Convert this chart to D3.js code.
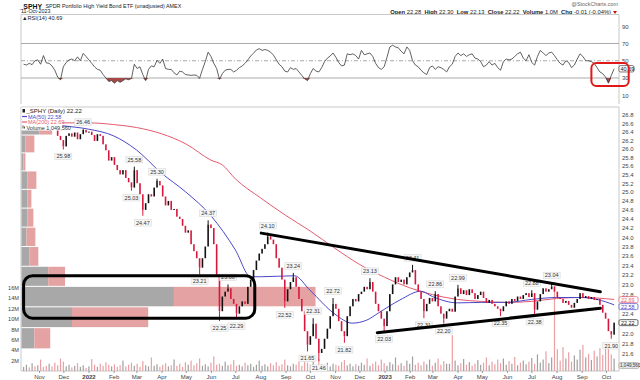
<!DOCTYPE html>
<html><head><meta charset="utf-8">
<script src="https://cdnjs.cloudflare.com/ajax/libs/d3/7.8.5/d3.min.js"></script>
<style>
body{margin:0;background:#fff;}
svg{display:block;font-family:"Liberation Sans",Arial,sans-serif;}
</style></head><body>
<svg id="c" width="640" height="380"></svg>
<script>
// ---------- DATA ----------
const startDate = Date.UTC(2021, 9, 13);   // first sample
const stepDays = 3.5;                        // two samples per week
const closes = [
26.62,26.66,26.60,26.68,26.64,26.70,26.66,26.60,26.56,26.62,26.52,
26.44,26.30,26.20,26.05,26.30,26.36,26.28,26.38,26.22,26.34,
26.44,26.38,26.40,26.32,26.18,26.34,26.30,26.10,25.96,25.72,
25.80,25.62,25.50,25.40,25.50,25.32,25.22,25.10,25.50,25.20,
24.95,24.60,24.75,24.95,24.90,25.10,25.25,25.15,24.90,24.70,
24.80,24.60,24.62,24.45,24.40,24.25,24.10,24.15,23.85,23.70,
23.55,23.35,23.55,23.80,24.28,24.20,23.85,23.20,22.45,22.75,
22.85,22.92,22.70,22.60,22.40,22.55,22.65,22.60,22.95,23.10,
23.30,23.50,23.65,23.75,23.85,24.02,23.95,23.85,23.55,23.35,
23.10,22.65,22.90,23.05,23.15,22.95,22.70,22.45,22.05,21.78,
21.95,22.20,21.90,21.62,21.70,21.90,22.10,22.35,22.60,22.50,
22.25,22.05,21.95,22.35,22.55,22.70,22.65,22.80,22.85,22.95,
22.90,23.05,22.85,22.60,22.45,22.30,22.15,22.45,22.80,23.00,
23.15,23.05,23.10,23.00,23.15,23.25,23.30,23.00,22.85,22.70,
22.45,22.60,22.72,22.65,22.80,22.55,22.40,22.30,22.45,22.50,
22.44,22.75,22.92,22.80,22.88,22.78,22.90,22.82,22.70,22.78,
22.85,22.72,22.62,22.68,22.60,22.55,22.50,22.45,22.55,22.65,
22.60,22.70,22.66,22.75,22.70,22.78,22.82,22.74,22.82,22.48,
22.65,22.80,22.92,22.85,22.90,22.96,22.85,22.72,22.70,22.62,
22.66,22.58,22.52,22.62,22.70,22.82,22.72,22.76,22.70,22.74,
22.68,22.70,22.58,22.42,22.30,22.05,21.98,22.22];

const volumes = [ // millions
0.8,1.2,0.7,1.5,0.9,1.1,2.2,0.8,1.0,1.4,
0.9,1.6,1.1,2.4,1.8,0.9,1.2,0.7,1.0,1.5,
0.8,1.1,0.6,0.9,2.3,1.2,0.8,1.4,1.0,1.7,
1.2,0.9,1.3,0.8,1.1,2.0,0.9,1.2,1.6,1.0,
1.4,0.8,1.9,1.1,0.9,2.6,1.0,1.3,0.8,1.2,
1.5,0.9,1.1,2.2,1.0,1.4,0.8,1.7,1.2,2.0,
1.1,1.5,2.4,1.0,1.3,0.9,1.6,2.8,1.2,1.4,
1.0,1.8,1.1,1.3,2.1,1.0,1.2,0.9,1.6,1.1,
1.4,0.8,1.2,2.0,1.0,1.3,0.9,1.5,1.1,1.7,
1.0,1.3,2.2,1.1,0.9,1.4,1.2,1.8,1.0,2.5,
1.6,1.2,1.9,1.0,2.3,1.3,1.1,1.6,0.9,1.4,
1.2,1.0,1.7,2.1,1.1,1.4,0.9,1.3,1.0,1.6,
1.2,2.4,1.0,1.4,1.8,1.1,2.2,1.5,1.0,1.7,
1.3,2.6,1.1,1.5,1.0,2.0,1.4,2.8,1.2,1.6,
1.1,1.8,1.3,2.2,1.0,1.6,2.4,1.2,1.9,1.4,
1.4,6.9,2.0,1.1,1.5,2.3,1.2,1.7,1.0,1.4,
2.1,1.2,1.6,2.6,1.1,1.8,1.3,2.2,1.5,2.4,
1.2,1.9,1.4,2.7,1.1,1.6,2.0,1.3,1.8,2.5,
1.4,3.2,1.6,2.2,3.8,1.5,2.6,16.0,4.2,2.0,
4.6,2.4,3.6,1.8,3.0,2.2,4.1,5.0,2.6,3.3,
2.1,3.9,2.8,4.4,3.1,5.4,4.8,3.2,2.4];

const rsi = [
46,45,47,45.5,50,51,46,56,47.5,47,44,
39,31,28,43,48,51,52,50,54.5,50,
58.5,55,51,47,43,40,39,34,30,26,
27,24,27,25,27,29,28,29.5,46,41,
43,34,27,40,44,43,50.5,47,52,41,
40,40,36,33.5,38,37,34,33.5,33,33.5,
33,29.8,40,49,60,55,47,41,28.5,35,
39,40,40,37,39,42,44,47,51,55.5,
58.8,62.5,64,62,63,62,60,56.5,51.3,46,
43,38,37,42,40,41,37,33,29,27,
35,41,38,37,42,49,53,55.5,59,54,
48,44,45,58,57,58,56,52,62,57,
58,59,55,47,42,40,43,54,66,68,
66,65,61,58,66,62,50,45,43,39,
36,34,42,44,40,43,42,40,37,43,
46,55,59,56,58,55,57,58,53,52,
49,43,45,49,45,47,42,39,49,52,
51,52,55,58,60,53,50,57,48,45,
55,62,59,56,59,60,56,51,47,45,
50,48,42,45,52,58,55,50,50,49,
47,42,37,35,31,24,33,40.69];

// annotated highs / lows: [sample index, value, H|L]
const pivots = [[14,25.98,"L"],[21,26.46,"H"],[38,25.03,"L"],[39,25.58,"H"],[42,24.47,"L"],[47,25.30,"H"],
[62,23.21,"L"],[65,24.37,"H"],[69,22.25,"L"],[72,23.00,"H"],[75,22.29,"L"],[86,24.10,"H"],[92,22.52,"L"],
[95,23.24,"H"],[100,21.65,"L"],[102,22.31,"H"],[104,21.46,"L"],[109,22.72,"H"],[113,21.82,"L"],[122,23.13,"H"],
[127,22.03,"L"],[137,23.41,"H"],[141,22.31,"L"],[145,22.86,"H"],[148,22.20,"L"],[153,22.99,"H"],[168,22.35,"L"],
[179,22.88,"H"],[180,22.38,"L"],[186,23.04,"H"],[207,21.90,"L"]];

const ma50Dates = ["2021-10-13","2021-11-15","2021-12-01","2022-01-01","2022-02-01","2022-03-01","2022-04-01","2022-05-01","2022-06-01","2022-07-01","2022-07-20","2022-08-01","2022-09-12","2022-10-01","2022-11-01","2022-11-22","2022-12-10","2022-12-25","2023-01-20","2023-02-15","2023-03-01","2023-04-01","2023-05-01","2023-06-01","2023-07-01","2023-08-01","2023-09-01","2023-09-20","2023-10-11"];
const ma50 = [26.62,26.58,26.54,26.46,26.30,25.97,25.43,25.00,24.47,23.73,23.16,23.16,23.18,22.88,22.39,22.21,22.27,22.42,22.68,22.86,22.75,22.62,22.63,22.63,22.69,22.73,22.73,22.69,22.58];
const ma200Dates = ["2021-10-13","2021-12-01","2022-01-01","2022-02-01","2022-03-01","2022-04-01","2022-05-01","2022-06-01","2022-06-15","2022-07-01","2022-08-01","2022-09-01","2022-10-01","2022-11-01","2022-12-01","2023-01-01","2023-02-01","2023-03-01","2023-04-01","2023-05-01","2023-06-01","2023-07-01","2023-08-01","2023-09-01","2023-10-11"];
const ma200 = [26.62,26.61,26.61,26.57,26.50,26.35,26.11,25.73,25.62,25.30,24.87,24.48,24.14,23.76,23.42,23.15,22.93,22.79,22.69,22.65,22.63,22.65,22.71,22.73,22.69];

// volume by price: zones of equal price width from 21.70
const vbpZoneStart = 21.70, vbpZoneWidth = 0.42;
const vbpUp   = [13,51,154,27,8,5,6,6,6,2,4,18];
const vbpDown = [16,77,143,17,9,9,6,4,9,2,9,13];

const monthLabels = ["Nov","Dec","2022","Feb","Mar","Apr","May","Jun","Jul","Aug","Sep","Oct","Nov","Dec","2023","Feb","Mar","Apr","May","Jun","Jul","Aug","Sep","Oct"];
const rsiTicks = [10,30,50,70,90];
const volTicks = [2,4,6,8,10,12,14,16];
const priceTicks = [21.6,21.8,22.0,22.4,22.8,23.0,23.2,23.4,23.6,23.8,24.0,24.2,24.4,24.6,24.8,25.0,25.2,25.4,25.6,25.8,26.0,26.2,26.4,26.6,26.8];

const trendUpper = [["2022-08-02",24.09],["2023-09-24",22.85]];
const trendLower = [["2022-12-23",22.02],["2023-09-24",22.51]];
const rangeBox = {from:"2021-10-13", to:"2022-07-25", low:22.31, high:23.18};
const rsiMark = {from:"2023-09-13", to:"2023-10-29", low:20.7, high:47.4};

// ---------- DRAW ----------
const P = d3.utcParse("%Y-%m-%d");
const svg = d3.select("#c");
const L = 21, R = 619;
const x = d3.scaleUtc().domain([P("2021-11-01"), P("2023-10-01")]).range([39, 606]);
const y = d3.scaleLog().domain([21.6, 26.8]).range([354, 115]);
const yr = d3.scaleLinear().domain([30, 70]).range([78, 43.5]);
const yv = d3.scaleLinear().domain([0, 16]).range([371, 287.8]);
const vbpX = d3.scaleLinear().domain([0, 300]).range([0, 297]);
const dates = closes.map((c, i) => new Date(startDate + i * stepDays * 864e5));
const fs = 6;
const grid = "#c8c8c8";
const red = "#d8163c", up = "#111";
const maBlue = "#4a48c8", maRed = "#e45a70";

svg.append("rect").attr("width",640).attr("height",380).attr("fill","#fff");

// header
svg.append("text").attr("x",19.5).attr("y",8.5).attr("font-size",6.9).attr("font-weight","bold").attr("fill","#111").text("_SPHY");
svg.append("text").attr("x",45.5).attr("y",8).attr("font-size",5.4).attr("fill","#222").text("SPDR Portfolio High Yield Bond ETF (unadjusted) AMEX");
svg.append("text").attr("x",21).attr("y",13.2).attr("font-size",5.4).attr("fill","#222").text("11-Oct-2023");
svg.append("text").attr("x",618).attr("y",6).attr("font-size",5.4).attr("fill","#666").attr("text-anchor","end").text("@StockCharts.com");
const hdr = svg.append("text").attr("x",611).attr("y",13.5).attr("font-size",5.8).attr("fill","#222").attr("text-anchor","end");
[["Open"," 22.28  "],["High"," 22.30  "],["Low"," 22.13  "],["Close"," 22.22  "],["Volume"," 1.0M  "],["Chg"," -0.01 (-0.04%)"]].forEach(([a,b])=>{
  hdr.append("tspan").attr("font-weight","bold").text(a);
  hdr.append("tspan").text(b.replace(/ /g,"\u00a0"));
});
svg.append("path").attr("d","M613,11 l4,0 l-2,3 z").attr("fill","#d01010");

// ---------- RSI panel ----------
const rsiTop = 14.5, rsiBot = 104;
svg.append("defs").html(`<clipPath id="cr"><rect x="${L}" y="${rsiTop}" width="${R-L}" height="${rsiBot-rsiTop}"/></clipPath>
<clipPath id="cm"><rect x="${L}" y="107" width="${R-L}" height="264"/></clipPath>`);
svg.append("line").attr("x1",L).attr("x2",R).attr("y1",rsiTop).attr("y2",rsiTop).attr("stroke",grid);
svg.append("line").attr("x1",L).attr("x2",L).attr("y1",rsiTop).attr("y2",rsiBot).attr("stroke",grid);
svg.append("line").attr("x1",R).attr("x2",R).attr("y1",rsiTop).attr("y2",rsiBot).attr("stroke",grid);
[70,30].forEach(v=>svg.append("line").attr("x1",L).attr("x2",R).attr("y1",yr(v)).attr("y2",yr(v)).attr("stroke","#aaa").attr("stroke-width",1));
svg.append("line").attr("x1",L).attr("x2",R).attr("y1",yr(50)).attr("y2",yr(50)).attr("stroke","#aaa").attr("stroke-dasharray","4,2,1,2");
const rg = svg.append("g").attr("clip-path","url(#cr)");
rg.append("path").datum(rsi).attr("fill","#a84848")
  .attr("d", d3.area().x((d,i)=>x(dates[i])).y0(yr(30)).y1(d=>yr(Math.min(d,30))));
rg.append("path").datum(rsi).attr("fill","none").attr("stroke","#3a3a3a").attr("stroke-width",0.8)
  .attr("d", d3.line().x((d,i)=>x(dates[i])).y(d=>yr(d)));
svg.append("text").attr("x",22).attr("y",19.8).attr("font-size",5.6).attr("fill","#222").text("\u25B2RSI(14) 40.69");
const ra = svg.append("g").attr("transform",`translate(${R},0)`).call(d3.axisRight(yr).tickValues(rsiTicks).tickSize(0).tickPadding(3));
ra.select(".domain").remove();
ra.selectAll("text").attr("font-size",fs).attr("fill","#444").attr("font-family","Liberation Sans, Arial, sans-serif");
// RSI value tag
svg.append("rect").attr("x",R).attr("y",yr(40.69)-3.2).attr("width",15).attr("height",6.4).attr("fill","#fff").attr("stroke","#222").attr("stroke-width",0.6).attr("rx",1.5);
svg.append("text").attr("x",R+1.5).attr("y",yr(40.69)+2).attr("font-size",5.5).attr("fill","#111").text("40.69");
// red highlight
const rx0 = x(P(rsiMark.from)), rx1 = x(P(rsiMark.to));
svg.append("rect").attr("x",rx0).attr("y",yr(rsiMark.high)).attr("width",rx1-rx0).attr("height",yr(rsiMark.low)-yr(rsiMark.high))
  .attr("rx",5).attr("fill","none").attr("stroke","#e01818").attr("stroke-width",2);

// ---------- main panel ----------
const mTop = 107, mBot = 371;
svg.append("line").attr("x1",L).attr("x2",R).attr("y1",mTop).attr("y2",mTop).attr("stroke",grid);
svg.append("line").attr("x1",L).attr("x2",L).attr("y1",mTop).attr("y2",mBot).attr("stroke",grid);
svg.append("line").attr("x1",R).attr("x2",R).attr("y1",mTop).attr("y2",mBot).attr("stroke",grid);
svg.append("line").attr("x1",L).attr("x2",R).attr("y1",mBot).attr("y2",mBot).attr("stroke",grid);
const mg = svg.append("g").attr("clip-path","url(#cm)");

// volume by price
vbpUp.forEach((u,k)=>{
  const lo = vbpZoneStart + k*vbpZoneWidth, hi = lo + vbpZoneWidth;
  const yt = y(hi)+0.5, h = y(lo)-y(hi)-1;
  mg.append("rect").attr("x",L+0.5).attr("y",yt).attr("width",vbpX(u)).attr("height",h).attr("fill","#a8a8a8");
  mg.append("rect").attr("x",L+0.5+vbpX(u)).attr("y",yt).attr("width",vbpX(vbpDown[k])).attr("height",h).attr("fill","#e4a2a2");
});

// volume bars
volumes.forEach((v,i)=>{
  const o = i ? closes[i-1] : closes[i];
  const isUp = closes[i] >= o;
  mg.append("rect").attr("x",x(dates[i])-0.6).attr("y",yv(v)).attr("width",1.2).attr("height",mBot-yv(v))
    .attr("fill", isUp ? "#a0a0a0" : "#eaa0a4");
});

// moving averages
const maLine = d3.line().x(d=>x(d[0])).y(d=>y(d[1])).curve(d3.curveMonotoneX);
mg.append("path").datum(ma200Dates.map((d,i)=>[P(d),ma200[i]])).attr("fill","none").attr("stroke",maRed).attr("stroke-width",1).attr("d",maLine);
mg.append("path").datum(ma50Dates.map((d,i)=>[P(d),ma50[i]])).attr("fill","none").attr("stroke",maBlue).attr("stroke-width",1).attr("d",maLine);

// candles
closes.forEach((c,i)=>{
  const o = i ? closes[i-1] : c;
  const isUp = c >= o;
  const yt = y(Math.max(o,c)), yb = y(Math.min(o,c));
  mg.append("rect").attr("x",x(dates[i])-0.8).attr("y",yt).attr("width",1.6).attr("height",Math.max(1,yb-yt))
    .attr("fill", isUp ? up : red);
});
// wicks to annotated extremes
pivots.forEach(([i,v,t])=>{
  const o = i ? closes[i-1] : closes[i];
  const isUp = closes[i] >= o;
  const from = t==="H" ? Math.max(o,closes[i]) : Math.min(o,closes[i]);
  mg.append("line").attr("x1",x(dates[i])).attr("x2",x(dates[i])).attr("y1",y(from)).attr("y2",y(v))
    .attr("stroke", isUp ? up : red).attr("stroke-width",1);
});
// pivot labels
pivots.forEach(([i,v,t])=>{
  const cx = x(dates[i]), cy = t==="H" ? y(v)-7 : y(v)+7;
  mg.append("rect").attr("x",cx-8.5).attr("y",cy-3.3).attr("width",17).attr("height",6.6).attr("fill","#f6f6f6").attr("stroke","#d4d4d4").attr("stroke-width",0.5);
  mg.append("text").attr("x",cx).attr("y",cy+2).attr("text-anchor","middle").attr("font-size",5.5).attr("fill","#333").text(v.toFixed(2));
});

// trend lines
[trendUpper, trendLower].forEach(tl=>{
  mg.append("line").attr("x1",x(P(tl[0][0]))).attr("y1",y(tl[0][1])).attr("x2",x(P(tl[1][0]))).attr("y2",y(tl[1][1]))
    .attr("stroke","#000").attr("stroke-width",3).attr("stroke-linecap","round");
});
const bx0 = x(P(rangeBox.from)), bx1 = x(P(rangeBox.to));
mg.append("rect").attr("x",bx0).attr("y",y(rangeBox.high)).attr("width",bx1-bx0).attr("height",y(rangeBox.low)-y(rangeBox.high))
  .attr("rx",9).attr("fill","none").attr("stroke","#000").attr("stroke-width",3);

// legend
svg.append("rect").attr("x",L+0.5).attr("y",mTop+0.5).attr("width",41).attr("height",23).attr("fill","#fff");
svg.append("rect").attr("x",22.5).attr("y",109).attr("width",2.5).attr("height",3.5).attr("fill","#222");
svg.append("text").attr("x",26.5).attr("y",113).attr("font-size",6).attr("fill","#222").text("_SPHY (Daily) 22.22");
svg.append("line").attr("x1",22).attr("x2",27).attr("y1",116.5).attr("y2",116.5).attr("stroke",maBlue).attr("stroke-width",1.2);
svg.append("text").attr("x",28).attr("y",118.5).attr("font-size",5.5).attr("fill",maBlue).text("MA(50) 22.58");
svg.append("line").attr("x1",22).attr("x2",27).attr("y1",122).attr("y2",122).attr("stroke",maRed).attr("stroke-width",1.2);
svg.append("text").attr("x",28).attr("y",124).attr("font-size",5.5).attr("fill",maRed).text("MA(200) 22.69");
svg.append("rect").attr("x",22.5).attr("y",125.5).attr("width",1).attr("height",3).attr("fill","#555");
svg.append("rect").attr("x",24).attr("y",126.5).attr("width",1).attr("height",2).attr("fill","#555");
svg.append("text").attr("x",26.5).attr("y",129.5).attr("font-size",5.5).attr("fill","#333").text("Volume 1,049,560");

// price axis (labels hidden behind value tags are left out)
const pa = svg.append("g").attr("transform",`translate(${R},0)`)
  .call(d3.axisRight(y).tickValues(priceTicks).tickFormat(d3.format(".1f")).tickSize(0).tickPadding(3));
pa.select(".domain").remove();
pa.selectAll("text").attr("font-size",fs).attr("fill","#444").attr("font-family","Liberation Sans, Arial, sans-serif");

// value tags
function tag(v, yy, stroke, col, bg){
  svg.append("rect").attr("x",R).attr("y",yy-3).attr("width",19).attr("height",6).attr("rx",1.5).attr("fill",bg).attr("stroke",stroke).attr("stroke-width",0.7);
  svg.append("text").attr("x",R+2).attr("y",yy+2).attr("font-size",5.4).attr("fill",col).text(v);
}
tag("22.69", y(22.69)+0.2, maRed, maRed, "#fff");
tag("22.58", y(22.58)+1.8, maBlue, maBlue, "#fff");
tag("22.22", y(22.22), "#222", "#111", "#fff");
svg.append("rect").attr("x",R).attr("y",yv(1.05)-3).attr("width",20).attr("height",6).attr("rx",1.5).attr("fill","#e8e8e8").attr("stroke","#999").attr("stroke-width",0.6);
svg.append("text").attr("x",R+1).attr("y",yv(1.05)+1.8).attr("font-size",4.6).attr("fill","#333").text("1,049,560");

// volume axis (left)
const va = svg.append("g").attr("transform",`translate(${L},0)`)
  .call(d3.axisLeft(yv).tickValues(volTicks).tickFormat(d=>d+"M").tickSize(0).tickPadding(2));
va.select(".domain").remove();
va.selectAll("text").attr("font-size",5.6).attr("fill","#444").attr("font-family","Liberation Sans, Arial, sans-serif");

// time axis
const months = d3.utcMonth.range(P("2021-11-01"), P("2023-10-02"));
const xa = svg.append("g").attr("transform",`translate(0,${mBot})`)
  .call(d3.axisBottom(x).tickValues(months).tickFormat((d,i)=>monthLabels[i]).tickSize(2).tickPadding(1.5));
xa.select(".domain").remove();
xa.selectAll("line").attr("stroke","#999");
xa.selectAll("text").attr("font-size",fs).attr("fill","#444").attr("font-family","Liberation Sans, Arial, sans-serif")
  .attr("font-weight",(d,i)=>monthLabels[i].length===4?"bold":"normal");
</script>
</body></html>
